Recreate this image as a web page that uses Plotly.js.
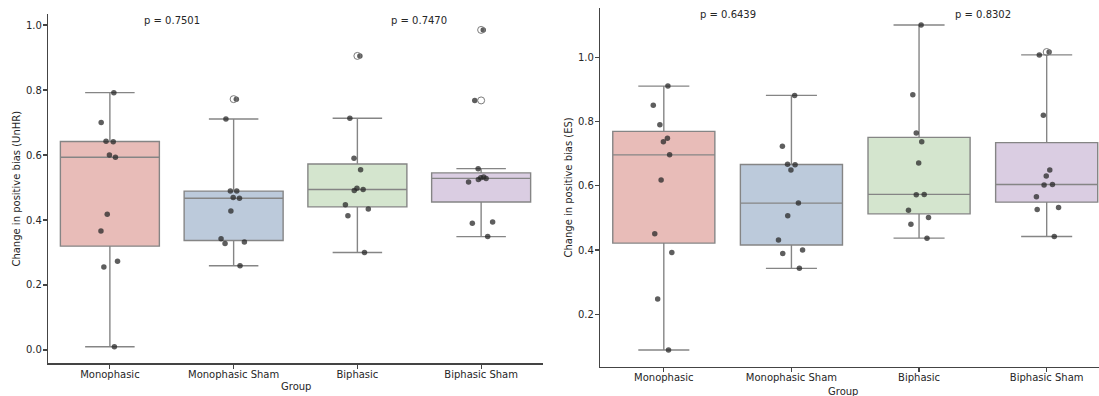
<!DOCTYPE html>
<html><head><meta charset="utf-8">
<script src="https://cdn.plot.ly/plotly-3.0.1.min.js"></script>
<style>html,body{margin:0;padding:0;background:#fff;overflow:hidden}</style>
</head><body>
<div id="chart" style="width:1099px;height:396px"></div>
<script>
// ---------- data ----------
const groups = ["Monophasic", "Monophasic Sham", "Biphasic", "Biphasic Sham"];

const unhrMonophasic     = [0.792, 0.700, 0.642, 0.641, 0.600, 0.593, 0.418, 0.366, 0.273, 0.255, 0.010];
const unhrMonophasicSham = [0.772, 0.711, 0.489, 0.489, 0.469, 0.467, 0.428, 0.342, 0.332, 0.328, 0.259];
const unhrBiphasic       = [0.905, 0.713, 0.590, 0.555, 0.498, 0.494, 0.491, 0.447, 0.434, 0.413, 0.300];
const unhrBiphasicSham   = [0.985, 0.768, 0.558, 0.532, 0.530, 0.528, 0.525, 0.517, 0.394, 0.390, 0.349];

const esMonophasic       = [0.910, 0.850, 0.790, 0.748, 0.737, 0.696, 0.618, 0.451, 0.392, 0.248, 0.089];
const esMonophasicSham   = [0.881, 0.723, 0.667, 0.665, 0.649, 0.546, 0.507, 0.431, 0.400, 0.389, 0.343];
const esBiphasic         = [1.100, 0.883, 0.764, 0.737, 0.671, 0.573, 0.572, 0.524, 0.501, 0.480, 0.437];
const esBiphasicSham     = [1.016, 1.007, 0.819, 0.649, 0.630, 0.604, 0.602, 0.566, 0.532, 0.526, 0.442];

const pLabelsUnHR = ["p = 0.7501", "p = 0.7470"];
const pLabelsES   = ["p = 0.6439", "p = 0.8302"];

const yTitleUnHR = "Change in positive bias (UnHR)";
const yTitleES   = "Change in positive bias (ES)";
const xTitle     = "Group";

// ---------- styles ----------
const fillColors = ["#e8bcb8", "#bccadb", "#d4e5ce", "#dacde2"];
const FONT = "DejaVu Sans, Liberation Sans, sans-serif";
const TXT = "#262626";
const EDGE = "#858585";

// ---------- helpers ----------
function quantile(s, p) {
  const pos = (s.length - 1) * p, lo = Math.floor(pos), hi = Math.ceil(pos);
  return s[lo] + (s[hi] - s[lo]) * (pos - lo);
}
function stats(vals) {
  const s = [...vals].sort((a, b) => a - b);
  const q1 = quantile(s, 0.25), med = quantile(s, 0.5), q3 = quantile(s, 0.75);
  const iqr = q3 - q1, lo = q1 - 1.5 * iqr, hi = q3 + 1.5 * iqr;
  const inside = s.filter(v => v >= lo && v <= hi);
  return {q1, med, q3, lf: inside[0], uf: inside[inside.length - 1], out: s.filter(v => v < lo || v > hi)};
}

function panelTraces(series, xa, ya) {
  const traces = [];
  series.forEach((vals, i) => {
    const st = stats(vals);
    const g = groups[i];
    traces.push({
      type: "box", orientation: "v", x: [g],
      q1: [st.q1], median: [st.med], q3: [st.q3],
      lowerfence: [st.lf], upperfence: [st.uf],
      boxpoints: false, width: 0.8, whiskerwidth: 0.5,
      fillcolor: fillColors[i], line: {color: EDGE, width: 1.4},
      xaxis: xa, yaxis: ya, hoverinfo: "skip"
    });
    if (st.out.length) {
      traces.push({
        type: "scatter", mode: "markers", x: st.out.map(() => g), y: st.out,
        marker: {symbol: "circle-open", size: 7, color: "#7a7a7a", line: {width: 1}},
        xaxis: xa, yaxis: ya, hoverinfo: "skip"
      });
    }
  });
  series.forEach((vals, i) => {
    const g = groups[i];
    traces.push({
      type: "box", orientation: "v", x: vals.map(() => g), y: vals,
      boxpoints: "all", jitter: 0.3, pointpos: 0, width: 0.8,
      fillcolor: "rgba(0,0,0,0)", line: {color: "rgba(0,0,0,0)", width: 0},
      marker: {color: "rgba(40,40,40,0.75)", size: 5.5},
      xaxis: xa, yaxis: ya, hoverinfo: "skip"
    });
  });
  return traces;
}

const data = [
  ...panelTraces([unhrMonophasic, unhrMonophasicSham, unhrBiphasic, unhrBiphasicSham], "x", "y"),
  ...panelTraces([esMonophasic, esMonophasicSham, esBiphasic, esBiphasicSham], "x2", "y2")
];

const tickFont = {family: FONT, size: 10, color: TXT};
const axBase = {
  showline: true, linecolor: "#444", linewidth: 1.2,
  ticks: "outside", ticklen: 4, tickwidth: 1.2, tickcolor: "#444",
  showgrid: false, zeroline: false, tickfont: tickFont
};

const W = 1099, H = 396;
const layout = {
  width: W, height: H,
  margin: {l: 0, r: 0, t: 0, b: 0},
  paper_bgcolor: "#fff", plot_bgcolor: "#fff",
  showlegend: false,
  boxmode: "overlay",
  font: {family: FONT, size: 10, color: TXT},
  xaxis: Object.assign({}, axBase, {
    type: "category", categoryorder: "array", categoryarray: groups,
    range: [-0.5, 3.5], domain: [48 / W, 543 / W], anchor: "y",
    ticklabelstandoff: -3
  }),
  yaxis: Object.assign({}, axBase, {
    range: [-0.041, 1.034], domain: [1 - 363.3 / H, 1 - 14 / H], anchor: "x",
    tick0: 0, dtick: 0.2, tickformat: ".1f", ticklabelstandoff: -1
  }),
  xaxis2: Object.assign({}, axBase, {
    type: "category", categoryorder: "array", categoryarray: groups,
    range: [-0.5, 3.41], domain: [600 / W, 1], anchor: "y2",
    ticklabelstandoff: -3
  }),
  yaxis2: Object.assign({}, axBase, {
    range: [0.037, 1.152], domain: [1 - 366.7 / H, 1 - 8.3 / H], anchor: "x2",
    tick0: 0, dtick: 0.2, tickformat: ".1f", ticklabelstandoff: -1
  }),
  annotations: [
    {xref: "x", yref: "y", x: 0.5, y: 1.013, text: pLabelsUnHR[0]},
    {xref: "x", yref: "y", x: 2.5, y: 1.013, text: pLabelsUnHR[1]},
    {xref: "x2", yref: "y2", x: 0.5, y: 1.132, text: pLabelsES[0]},
    {xref: "x2", yref: "y2", x: 2.5, y: 1.132, text: pLabelsES[1]},
    {xref: "paper", yref: "paper", x: 295.5 / W, y: 1 - 386 / H, text: xTitle},
    {xref: "paper", yref: "paper", x: 843 / W, y: 1 - 391 / H, text: xTitle},
    {xref: "paper", yref: "paper", x: 17 / W, y: 1 - 188.6 / H, text: yTitleUnHR, textangle: -90},
    {xref: "paper", yref: "paper", x: 568 / W, y: 1 - 187.5 / H, text: yTitleES, textangle: -90}
  ].map(a => Object.assign(a, {showarrow: false, xanchor: "center", yanchor: "middle", font: tickFont}))
};

Plotly.newPlot("chart", data, layout, {displayModeBar: false, staticPlot: true});
</script>
</body></html>
